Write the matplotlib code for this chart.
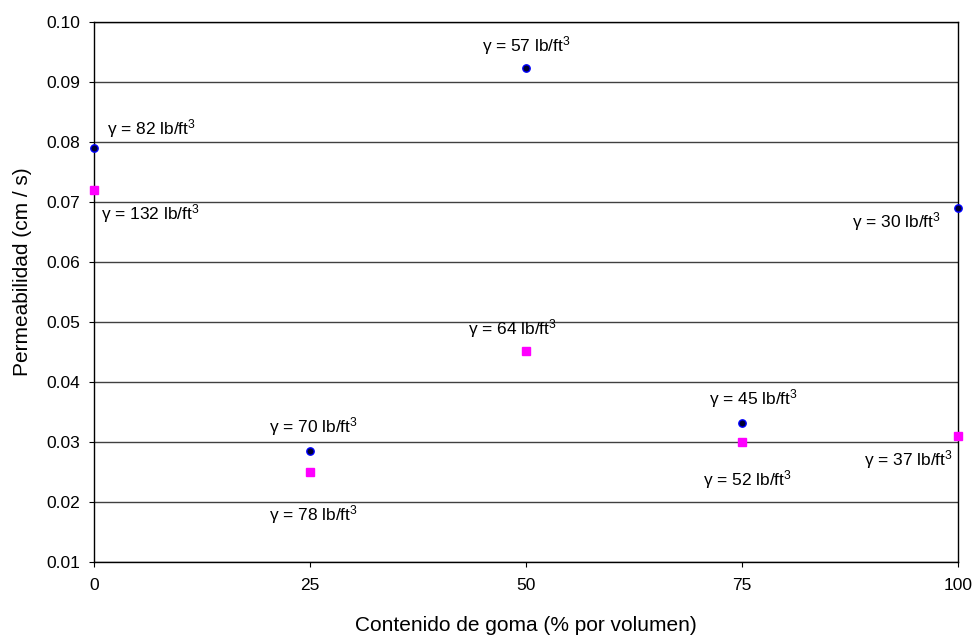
import matplotlib
matplotlib.use("Agg")
from matplotlib import pyplot as plt

plt.rcParams['font.family'] = ['Liberation Sans', 'DejaVu Sans']
plt.rcParams['mathtext.fontset'] = 'custom'
plt.rcParams['mathtext.rm'] = 'Liberation Sans'
plt.rcParams['mathtext.it'] = 'Liberation Sans'

goma = [0, 25, 50, 75, 100]
perm_circ = [0.079, 0.0285, 0.0923, 0.0332, 0.069]
perm_sq = [0.072, 0.025, 0.0452, 0.030, 0.031]
lab_circ = ['82', '70', '57', '45', '30']
lab_sq = ['132', '78', '64', '52', '37']

# label offsets in points (dx, dy to baseline) and horizontal alignment
off_circ = [(9.4, 10.1, 'left'), (2.9, 13.7, 'center'), (0, 12.2, 'center'),
            (8.6, 13, 'center'), (-12.2, -13.7, 'right')]
off_sq = [(5, -20.9, 'left'), (2.9, -34.6, 'center'), (-9.4, 11.5, 'center'),
          (4.3, -31, 'center'), (-3.6, -20.9, 'right')]

fig = plt.figure(figsize=(9.74, 6.38), dpi=100)
ax = fig.add_axes([0.0965, 0.1191, 0.8871, 0.8464])

ax.set_xlim(0, 100)
ax.set_ylim(0.01, 0.10)
ax.set_xticks(goma)
ax.set_yticks([0.01 * i for i in range(1, 11)])
ax.set_yticklabels(['%.2f' % (0.01 * i) for i in range(1, 11)])
ax.yaxis.grid(True, color='#404040', linewidth=1.0)
ax.set_axisbelow(True)
for s in ax.spines.values():
    s.set_linewidth(1.0)
ax.tick_params(labelsize=12.5, direction='out', length=3.6, width=0.8)
ax.tick_params(axis='x', pad=8)
ax.tick_params(axis='y', pad=6.5)

ax.plot(goma, perm_sq, 's', color='#ff00ff', markersize=5.8, clip_on=False, zorder=3)
ax.plot(goma, perm_circ, 'o', color='#000033', markeredgecolor='#0000ff',
        markersize=5.3, markeredgewidth=1.0, clip_on=False, zorder=3)

for x, y, t, (dx, dy, ha) in zip(goma, perm_circ, lab_circ, off_circ):
    ax.annotate('γ = %s lb/ft$^3$' % t, (x, y), xytext=(dx, dy), textcoords='offset points',
                ha=ha, va='baseline', fontsize=12.5)
for x, y, t, (dx, dy, ha) in zip(goma, perm_sq, lab_sq, off_sq):
    ax.annotate('γ = %s lb/ft$^3$' % t, (x, y), xytext=(dx, dy), textcoords='offset points',
                ha=ha, va='baseline', fontsize=12.5)

ax.set_xlabel('Contenido de goma (% por volumen)', fontsize=15)
ax.set_ylabel('Permeabilidad (cm / s)', fontsize=15)
ax.xaxis.set_label_coords(0.5, -0.118)
ax.yaxis.set_label_coords(-0.0833, 0.537)
ax.xaxis.label.set_va('center')
ax.yaxis.label.set_va('center')

fig.savefig('out.png', dpi=100)
